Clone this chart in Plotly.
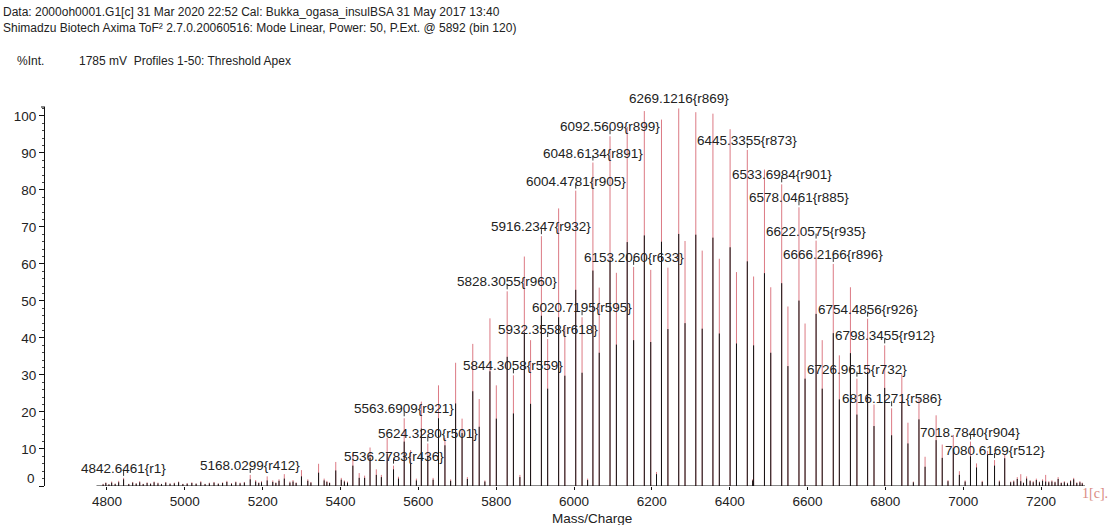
import plotly.graph_objects as go

# ---- main 44 Da ladder (m/z, intensity of the red and the black profile) ----
a_mz = [5168.0299, 5211.6, 5255.6, 5299.7, 5343.7, 5387.8, 5431.8, 5475.9, 5519.9,
        5563.6909, 5607.7, 5651.8, 5695.8, 5739.9, 5784.0, 5828.3055, 5872.4,
        5916.2347, 5960.5, 6004.4781, 6048.6134, 6092.5609, 6136.7, 6180.7, 6224.8,
        6269.1216, 6313.0, 6357.0, 6401.1, 6445.3355, 6489.4, 6533.6984, 6578.0461,
        6622.0575, 6666.2166, 6710.3, 6754.4856, 6798.3455, 6842.4, 6886.4, 6930.5,
        6974.6, 7018.7840, 7062.7, 7106.8]
a_red = [3.0, 2.6, 3.2, 4.3, 6.0, 6.5, 8.8, 10.4, 13.0,
         18.3, 22.8, 27.2, 33.3, 38.4, 45.3, 52.6, 62.0,
         67.5, 75.0, 79.8, 87.4, 94.5, 97.0, 101.3, 99.0,
         102.0, 101.0, 100.6, 96.4, 90.8, 85.5, 81.5, 75.3,
         66.3, 60.0, 53.7, 45.2, 38.0, 30.2, 23.8, 19.1,
         13.8, 12.0, 9.5, 8.5]
a_black = [1.8, 1.5, 2.0, 2.6, 3.6, 4.2, 5.5, 7.6, 8.8,
           12.0, 15.5, 18.3, 22.3, 25.6, 31.0, 34.9, 41.5,
           46.0, 45.6, 53.0, 58.2, 61.0, 65.9, 67.7, 66.0,
           68.1, 67.9, 67.1, 64.5, 60.7, 57.5, 54.8, 50.1,
           46.5, 41.3, 35.9, 30.8, 26.5, 22.8, 18.0, 12.4,
           10.2, 8.0, 8.4, 7.5]

# ---- satellite ladder, +16 Da ----
b_mz = [5448.0, 5492.0, 5536.2783, 5580.2, 5624.3280, 5668.4, 5712.4, 5756.4, 5800.4,
        5844.3058, 5888.4, 5932.3558, 5976.5, 6020.7195, 6064.8, 6108.9, 6153.2060,
        6197.2, 6241.3, 6285.3, 6329.4, 6373.4, 6417.5, 6461.5, 6505.6, 6549.7,
        6593.7, 6637.8, 6681.8, 6726.9615, 6770.9, 6816.1271, 6858.1, 6902.1,
        6946.2, 6990.2, 7034.3, 7080.6169]
b_red = [3.5, 4.5, 5.5, 9.7, 11.5, 13.0, 18.2, 23.5, 27.2,
         29.9, 39.4, 39.7, 43.0, 45.6, 53.6, 57.6, 59.2,
         58.4, 59.0, 66.2, 63.6, 61.4, 57.8, 56.6, 53.7, 48.5,
         43.9, 39.4, 35.3, 29.0, 22.0, 21.0, 17.1, 7.9,
         11.2, 4.0, 6.1, 7.0]
b_black = [2.2, 3.0, 4.5, 6.0, 8.0, 11.0, 14.3, 16.0, 18.2,
           19.6, 22.2, 26.3, 29.8, 30.6, 36.0, 38.2, 39.4,
           38.9, 42.4, 44.0, 42.5, 41.2, 38.5, 38.0, 36.0, 32.4,
           29.0, 26.3, 23.4, 19.3, 16.2, 13.7, 11.5, 5.2,
           7.6, 3.0, 5.0, 5.5]

# ---- small baseline peaks ----
noise_mz = [4790, 4797, 4805, 4812, 4821, 4830, 4842.6461, 4856, 4866, 4875, 4884, 4893,
            4903, 4912, 4921, 4931, 4940, 4951, 4962, 4973, 4984, 4995, 5006, 5018,
            5029, 5041, 5052, 5063, 5075, 5086, 5097, 5108, 5120, 5131, 5142, 5153,
            5182, 5190, 5197, 5226, 5234, 5242, 5270, 5278, 5286, 5316, 5324, 5358,
            5365, 5372, 5402, 5410, 5418, 5462, 5505, 5549, 5595, 5638, 5683, 5726,
            5771, 5861, 6035, 6212, 6459, 6872, 6961, 7005, 7049, 7093,
            7122, 7130, 7139, 7148, 7155, 7163, 7172, 7180, 7188, 7196, 7204, 7212,
            7220, 7228, 7236, 7244, 7252, 7260, 7268, 7276, 7284, 7292, 7300, 7306]
noise_red = [0.6, 1.0, 0.5, 1.2, 0.7, 1.4, 2.2, 0.6, 1.1, 0.8, 1.3, 0.6,
             1.0, 0.7, 1.2, 0.9, 0.6, 1.1, 0.7, 0.9, 1.2, 0.6, 0.8, 1.0,
             0.7, 1.3, 0.6, 0.9, 1.1, 0.7, 1.0, 1.4, 0.8, 1.2, 0.9, 1.1,
             1.6, 1.0, 1.3, 1.5, 1.0, 1.8, 1.2, 1.6, 1.0, 1.8, 1.1, 2.0,
             1.4, 1.0, 2.2, 1.5, 1.2, 2.8, 3.0, 2.5, 2.0, 2.2, 1.8, 2.4,
             1.5, 3.0, 2.0, 3.8, 1.8, 1.2, 1.6, 1.5, 1.4, 1.5,
             1.2, 1.5, 2.4, 3.2, 1.0, 2.6, 1.6, 1.3, 2.0, 1.2, 1.8, 3.0,
             1.3, 1.5, 1.2, 2.4, 1.0, 1.3, 0.9, 1.6, 2.2, 1.0, 1.3, 0.9]
noise_black = [0.4, 0.8, 0.4, 0.9, 0.5, 1.0, 1.8, 0.5, 0.9, 0.6, 1.0, 0.5,
               0.8, 0.6, 1.0, 0.7, 0.5, 0.9, 0.6, 0.7, 1.0, 0.5, 0.6, 0.8,
               0.6, 1.0, 0.5, 0.7, 0.9, 0.6, 0.8, 1.1, 0.6, 1.0, 0.7, 0.9,
               1.2, 0.8, 1.0, 1.1, 0.8, 1.4, 0.9, 1.2, 0.8, 1.4, 0.9, 1.5,
               1.1, 0.8, 1.7, 1.2, 0.9, 2.2, 2.4, 2.0, 1.5, 1.7, 1.4, 1.9,
               1.2, 2.4, 1.6, 3.2, 1.5, 1.0, 1.3, 1.2, 1.1, 1.2,
               1.0, 1.2, 1.9, 1.3, 0.8, 2.0, 1.3, 1.0, 1.6, 1.0, 1.4, 1.2,
               1.0, 1.2, 1.0, 1.9, 0.8, 1.0, 0.7, 1.3, 1.8, 0.8, 1.0, 0.7]

# ---- annotated peaks: (m/z, resolution) ----
label_mz = [4842.6461, 5168.0299, 5536.2783, 5563.6909, 5624.3280, 5828.3055, 5844.3058,
            5916.2347, 5932.3558, 6004.4781, 6020.7195, 6048.6134, 6092.5609, 6153.2060,
            6269.1216, 6445.3355, 6533.6984, 6578.0461, 6622.0575, 6666.2166, 6726.9615,
            6754.4856, 6798.3455, 6816.1271, 7018.7840, 7080.6169]
label_res = [1, 412, 436, 921, 501, 960, 559, 932, 618, 905, 595, 891, 899, 633,
             869, 873, 901, 885, 935, 896, 732, 926, 912, 586, 904, 512]

x_ticks = [4800, 5000, 5200, 5400, 5600, 5800, 6000, 6200, 6400, 6600, 6800, 7000, 7200]
y_ticks = [0, 10, 20, 30, 40, 50, 60, 70, 80, 90, 100]

RED = "#dc7a84"
BLACK = "#111111"
TXT = "#222222"
FONT = "Liberation Sans, Arial, sans-serif"

all_mz = a_mz + b_mz + noise_mz
all_red = a_red + b_red + noise_red
all_black = a_black + b_black + noise_black


def sticks(xs, hs):
    px, py = [], []
    for m, h in zip(xs, hs):
        px += [m, m, None]
        py += [0, h, None]
    return px, py


fig = go.Figure()
rx, ry = sticks(all_mz, all_red)
fig.add_trace(go.Scatter(x=rx, y=ry, mode="lines", line=dict(color=RED, width=1),
                         hoverinfo="skip", showlegend=False))
bx, by = sticks(all_mz, all_black)
fig.add_trace(go.Scatter(x=bx, y=by, mode="lines", line=dict(color=BLACK, width=1),
                         hoverinfo="skip", showlegend=False))

# baseline of the spectrum
fig.add_shape(type="line", xref="x", yref="y", x0=min(noise_mz) - 17, x1=max(noise_mz) + 7,
              y0=0, y1=0, line=dict(color=BLACK, width=1))

annotations = []
height_of = {m: max(r, b) for m, r, b in zip(all_mz, all_red, all_black)}
for m, r in zip(label_mz, label_res):
    h = height_of[m]
    annotations.append(dict(x=m, y=h, xref="x", yref="y", text=f"{m:.4f}{{r{r}}}",
                            showarrow=False, xanchor="center", yanchor="bottom", yshift=0,
                            font=dict(family=FONT, size=13.5, color=TXT)))
    # apex marker
    fig.add_shape(type="line", xref="x", yref="y", x0=m, x1=m, ysizemode="pixel",
                  yanchor=h, y0=2, y1=7, line=dict(color="#333333", width=1))

# header lines
header = [
    ("Data: 2000oh0001.G1[c] 31 Mar 2020 22:52 Cal: Bukka_ogasa_insulBSA 31 May 2017 13:40", 1, 12),
    ("Shimadzu Biotech Axima ToF² 2.7.0.20060516: Mode Linear, Power: 50, P.Ext. @ 5892 (bin 120)", 1, 28),
    ("%Int.", 15, 61),
    ("1785 mV  Profiles 1-50: Threshold Apex", 77, 61),
]
L, T, B, H, W = 45, 107, 39, 525, 1113
PH = H - T - B
PW = W - L - 23
for text, px, py in header:
    annotations.append(dict(x=(px - L) / PW, y=(H - B - py) / PH, xref="paper", yref="paper",
                            text=text, showarrow=False, xanchor="left", yanchor="middle",
                            font=dict(family=FONT, size=12, color=TXT)))

# zero tick label sits a little above its tick
annotations.append(dict(x=0, y=0, xref="paper", yref="y", text="0", showarrow=False,
                        xanchor="right", yanchor="middle", xshift=-8, yshift=8,
                        font=dict(family=FONT, size=13.5, color=TXT)))
# axis title
annotations.append(dict(x=6046, y=(H - B - 518) / PH, xref="x", yref="paper", text="Mass/Charge",
                        showarrow=False, xanchor="center", yanchor="middle",
                        font=dict(family=FONT, size=13.5, color=TXT)))
# trace tag
annotations.append(dict(x=(1080 - L) / PW, y=(H - B - 493) / PH, xref="paper", yref="paper",
                        text="1[c].", showarrow=False, xanchor="left", yanchor="middle",
                        font=dict(family="Liberation Serif, Times New Roman, serif", size=14,
                                  color="#d98a82")))

# cap at the top of the intensity axis
fig.add_shape(type="line", xref="paper", yref="paper", x0=-4 / PW, x1=0, y0=1, y1=1,
              line=dict(color=BLACK, width=1))

fig.update_layout(
    width=W, height=H, autosize=False,
    margin=dict(l=L, r=23, t=T, b=B, pad=0),
    paper_bgcolor="white", plot_bgcolor="white",
    annotations=annotations,
    xaxis=dict(range=[4640.7, 7325.9], tickvals=x_ticks, showline=False, zeroline=False,
               showgrid=False, ticks="outside", ticklen=3, tickcolor=BLACK,
               tickfont=dict(family=FONT, size=13.5, color=TXT)),
    yaxis=dict(range=[0, 102.4], tickvals=y_ticks,
               ticktext=[""] + [str(v) for v in y_ticks[1:]],
               showline=True, linecolor=BLACK, linewidth=1, zeroline=False, showgrid=False,
               ticks="outside", ticklen=5, tickcolor=BLACK,
               minor=dict(dtick=2, ticks="outside", ticklen=2, tickcolor="#444444"),
               tickfont=dict(family=FONT, size=13.5, color=TXT)),
)

fig.write_html("out.html")
